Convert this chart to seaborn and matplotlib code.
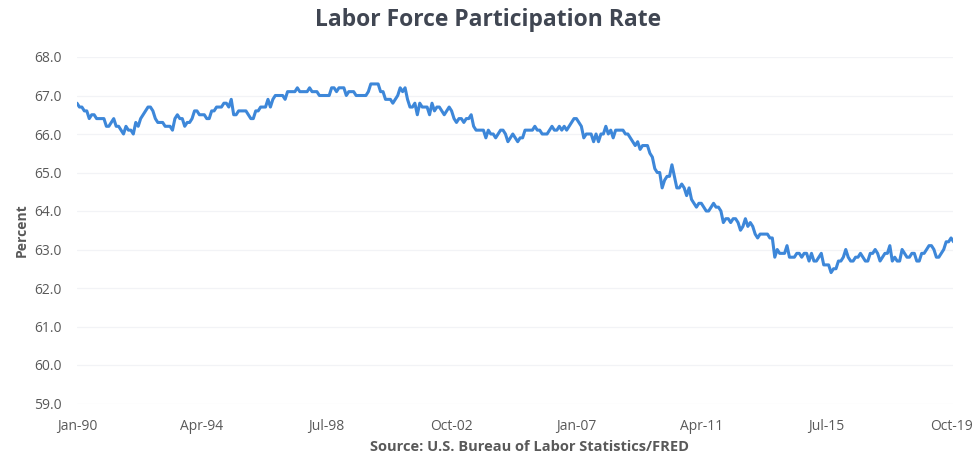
import matplotlib
matplotlib.use("Agg")
import matplotlib.pyplot as plt
import seaborn as sns
import pandas as pd
import numpy as np

# Monthly labor force participation rate, Jan 1990 - Nov 2019 (percent)
y1990 = [66.8, 66.7, 66.7, 66.6, 66.6, 66.4, 66.5, 66.5, 66.4, 66.4, 66.4, 66.4]
y1991 = [66.2, 66.2, 66.3, 66.4, 66.2, 66.2, 66.1, 66.0, 66.2, 66.1, 66.1, 66.0]
y1992 = [66.3, 66.2, 66.4, 66.5, 66.6, 66.7, 66.7, 66.6, 66.4, 66.3, 66.3, 66.3]
y1993 = [66.2, 66.2, 66.2, 66.1, 66.4, 66.5, 66.4, 66.4, 66.2, 66.3, 66.3, 66.4]
y1994 = [66.6, 66.6, 66.5, 66.5, 66.5, 66.4, 66.4, 66.6, 66.6, 66.7, 66.7, 66.7]
y1995 = [66.8, 66.8, 66.7, 66.9, 66.5, 66.5, 66.6, 66.6, 66.6, 66.6, 66.5, 66.4]
y1996 = [66.4, 66.6, 66.6, 66.7, 66.7, 66.7, 66.9, 66.7, 66.9, 67.0, 67.0, 67.0]
y1997 = [67.0, 66.9, 67.1, 67.1, 67.1, 67.1, 67.2, 67.1, 67.1, 67.1, 67.1, 67.2]
y1998 = [67.1, 67.1, 67.1, 67.0, 67.0, 67.0, 67.0, 67.0, 67.2, 67.2, 67.1, 67.2]
y1999 = [67.2, 67.2, 67.0, 67.1, 67.1, 67.1, 67.0, 67.0, 67.0, 67.0, 67.0, 67.1]
y2000 = [67.3, 67.3, 67.3, 67.3, 67.1, 67.1, 66.9, 66.9, 66.9, 66.8, 66.9, 67.0]
y2001 = [67.2, 67.1, 67.2, 66.9, 66.7, 66.7, 66.8, 66.5, 66.8, 66.7, 66.7, 66.7]
y2002 = [66.5, 66.8, 66.6, 66.7, 66.7, 66.6, 66.5, 66.6, 66.7, 66.6, 66.4, 66.3]
y2003 = [66.4, 66.4, 66.3, 66.4, 66.4, 66.5, 66.2, 66.1, 66.1, 66.1, 66.1, 65.9]
y2004 = [66.1, 66.0, 66.0, 65.9, 66.0, 66.1, 66.1, 66.0, 65.8, 65.9, 66.0, 65.9]
y2005 = [65.8, 65.9, 65.9, 66.1, 66.1, 66.1, 66.1, 66.2, 66.1, 66.1, 66.0, 66.0]
y2006 = [66.0, 66.1, 66.2, 66.1, 66.1, 66.2, 66.1, 66.2, 66.1, 66.2, 66.3, 66.4]
y2007 = [66.4, 66.3, 66.2, 65.9, 66.0, 66.0, 66.0, 65.8, 66.0, 65.8, 66.0, 66.0]
y2008 = [66.2, 66.0, 66.1, 65.9, 66.1, 66.1, 66.1, 66.1, 66.0, 66.0, 65.9, 65.8]
y2009 = [65.7, 65.8, 65.6, 65.7, 65.7, 65.7, 65.5, 65.4, 65.1, 65.0, 65.0, 64.6]
y2010 = [64.8, 64.9, 64.9, 65.2, 64.9, 64.6, 64.6, 64.7, 64.6, 64.4, 64.6, 64.3]
y2011 = [64.2, 64.1, 64.2, 64.2, 64.1, 64.0, 64.0, 64.1, 64.2, 64.1, 64.1, 64.0]
y2012 = [63.7, 63.8, 63.8, 63.7, 63.8, 63.8, 63.7, 63.5, 63.6, 63.8, 63.6, 63.7]
y2013 = [63.6, 63.4, 63.3, 63.4, 63.4, 63.4, 63.4, 63.3, 63.3, 62.8, 63.0, 62.9]
y2014 = [62.9, 62.9, 63.1, 62.8, 62.8, 62.8, 62.9, 62.9, 62.8, 62.9, 62.9, 62.7]
y2015 = [62.9, 62.7, 62.7, 62.8, 62.9, 62.6, 62.6, 62.6, 62.4, 62.5, 62.5, 62.7]
y2016 = [62.7, 62.8, 63.0, 62.8, 62.7, 62.7, 62.8, 62.8, 62.9, 62.8, 62.7, 62.7]
y2017 = [62.9, 62.9, 63.0, 62.9, 62.7, 62.8, 62.9, 62.9, 63.1, 62.7, 62.8, 62.7]
y2018 = [62.7, 63.0, 62.9, 62.8, 62.8, 62.9, 62.9, 62.7, 62.7, 62.9, 62.9, 63.0]
y2019 = [63.1, 63.1, 63.0, 62.8, 62.8, 62.9, 63.0, 63.2, 63.2, 63.3, 63.2]

tick_labels = ["Jan-90", "Apr-94", "Jul-98", "Oct-02", "Jan-07", "Apr-11", "Jul-15", "Oct-19"]
y_ticks = [59.0, 60.0, 61.0, 62.0, 63.0, 64.0, 65.0, 66.0, 67.0, 68.0]

rate = (y1990 + y1991 + y1992 + y1993 + y1994 + y1995 + y1996 + y1997 + y1998 + y1999 +
        y2000 + y2001 + y2002 + y2003 + y2004 + y2005 + y2006 + y2007 + y2008 + y2009 +
        y2010 + y2011 + y2012 + y2013 + y2014 + y2015 + y2016 + y2017 + y2018 + y2019)
df = pd.DataFrame({"month": np.arange(len(rate)), "rate": rate})

sns.set_theme(style="white")
plt.rcParams["font.family"] = ["Open Sans", "DejaVu Sans"]

W, H = 979, 455
fig = plt.figure(figsize=(W / 100, H / 100), dpi=100)
left, right, top, bottom = 77, 953.5, 57, 403.5
ax = fig.add_axes([left / W, 1 - bottom / H, (right - left) / W, (bottom - top) / H])

sns.lineplot(data=df, x="month", y="rate", ax=ax, color="#3d87d9", linewidth=2.2)

ax.set_xlim(0, 358)
ax.set_ylim(59, 68)
ax.set_yticks(y_ticks)
ax.set_yticklabels([f"{v:.1f}" for v in y_ticks])
ax.set_xticks(np.arange(0, 358, 51))
ax.set_xticklabels(tick_labels)
ax.grid(axis="y", color="#f2f3f6", linewidth=0.9)
ax.grid(axis="x", visible=False)
for s in ax.spines.values():
    s.set_visible(False)
ax.tick_params(axis="both", length=0, labelsize=10, colors="#595959")
ax.tick_params(axis="y", pad=11)
ax.tick_params(axis="x", pad=11)
ax.set_xlabel("")
ax.set_ylabel("Percent", fontsize=10, fontweight="bold", color="#595959", labelpad=4)

fig.text(488 / W, 1 - 20 / H, "Labor Force Participation Rate", ha="center", va="center",
         fontsize=16.5, fontweight="bold", color="#404652")
fig.text(530 / W, 1 - 447 / H, "Source: U.S. Bureau of Labor Statistics/FRED", ha="center",
         va="center", fontsize=10.5, fontweight="bold", color="#595959")

fig.savefig("out.png", dpi=100)
